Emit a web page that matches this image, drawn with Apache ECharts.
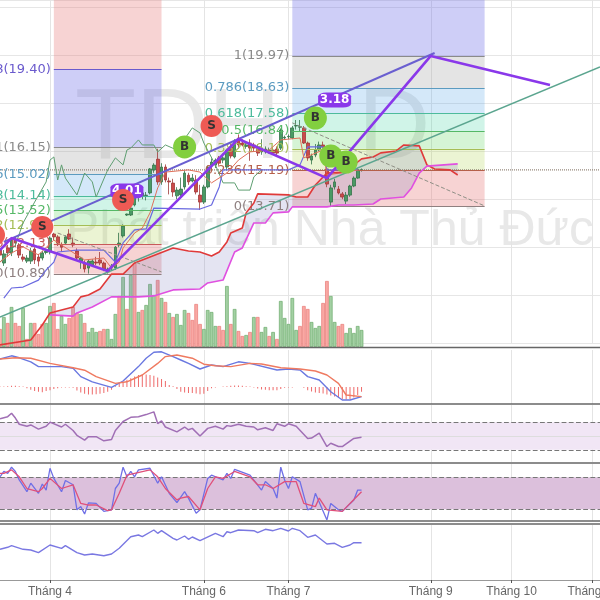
<!DOCTYPE html>
<html>
<head>
<meta charset="utf-8">
<style>
  html, body { margin: 0; padding: 0; background: #fff; }
  #chart { width: 600px; height: 600px; }
</style>
<script src="https://cdn.jsdelivr.net/npm/echarts@6/dist/echarts.min.js"></script>
</head>
<body>
<div id="chart"></div>
<script>
// x slots are trading days, the last ones are empty future days
var slotCount = 157
var tickSlots = [13, 53, 75, 112, 133, 154]
var tickLabels = ['Tháng 4', 'Tháng 6', 'Tháng 7', 'Tháng 9', 'Tháng 10', 'Tháng 11']

// open, close, low, high
var candles = [
  [11.88,11.67,11.55,12.0],[11.34,11.72,11.22,11.88],[11.97,11.76,11.6,12.1],[11.76,12.3,11.63,12.38],[12.3,12.17,12.0,12.43],
  [12.09,11.67,11.55,12.17],[11.59,11.5,11.4,11.72],[11.42,11.55,11.34,11.67],[11.42,11.84,11.3,11.97],[11.92,11.47,11.3,12.0],
  [11.59,11.42,11.2,11.72],[11.55,11.76,11.45,11.84],[11.78,11.84,11.7,11.9],[11.8,12.38,11.7,12.45],[12.55,12.43,12.3,12.6],
  [12.43,12.17,12.05,12.5],[12.09,12.0,11.8,12.2],[12.17,12.43,12.1,12.5],[12.55,12.34,12.3,12.75],[12.17,12.09,12.0,12.4],
  [11.84,11.55,11.45,11.95],[11.42,11.55,11.1,11.6],[11.34,11.09,10.95,11.45],[11.13,11.42,10.9,11.5],[11.26,11.42,11.2,11.5],
  [11.38,11.34,11.25,11.6],[11.47,11.34,11.25,11.8],[11.34,11.09,11.0,11.4],[10.97,11.09,10.9,11.15],[11.13,11.22,11.05,11.3],
  [11.13,12.0,11.05,12.05],[12.09,12.17,12.0,12.6],[12.47,12.88,12.4,12.95],[13.34,13.38,13.3,13.4],[13.34,13.63,13.3,13.7],
  [13.76,14.26,13.7,14.35],[14.09,14.26,13.9,14.4],[14.14,14.26,14.0,14.35],[14.15,14.17,13.95,14.3],[14.26,15.26,14.2,15.3],
  [15.22,15.42,15.1,15.5],[15.67,14.72,14.6,16.1],[14.72,15.34,14.6,15.5],[15.34,14.8,14.7,15.45],[14.76,14.72,14.2,14.9],
  [14.67,14.3,14.1,14.85],[14.14,14.38,14.0,14.5],[14.18,14.42,14.05,14.9],[14.51,15.09,14.4,15.2],[15.0,14.72,14.6,15.1],
  [14.76,14.88,14.7,15.05],[14.8,14.3,14.2,15.0],[14.17,13.88,13.55,14.6],[13.88,14.51,13.8,14.6],[14.51,15.34,14.45,15.4],
  [15.42,15.55,15.3,15.7],[15.42,15.63,15.3,15.7],[15.72,15.5,15.4,15.8],[15.63,15.72,15.5,15.9],[15.34,16.05,15.2,16.1],
  [16.18,15.8,15.7,16.3],[15.76,16.38,15.7,16.5],[16.55,16.26,16.1,16.7],[16.34,16.26,16.2,16.5],[16.2,16.26,16.1,16.4],
  [16.34,16.13,15.6,16.5],[16.26,16.13,16.0,16.35],[16.17,15.92,15.8,16.3],[15.97,16.13,15.85,16.5],[15.97,16.09,15.9,16.2],
  [16.0,16.05,15.9,16.15],[16.05,15.92,15.85,16.15],[16.09,15.92,15.8,16.2],[16.13,16.88,16.05,16.95],[16.55,16.58,16.5,16.65],
  [16.6,16.62,16.5,16.7],[16.55,16.97,16.5,17.05],[17.05,17.07,16.9,17.3],[17.0,17.02,16.8,17.3],[16.97,16.34,16.3,17.05],
  [16.34,15.72,15.6,16.4],[15.63,15.8,15.45,15.9],[15.84,16.05,15.75,16.3],[16.05,16.26,16.0,16.4],[16.26,16.17,16.1,16.4],
  [15.26,14.63,14.5,15.4],[13.88,14.47,13.68,14.6],[14.51,14.72,14.4,14.85],[14.42,14.26,14.2,14.55],[14.22,14.09,14.0,14.3],
  [13.92,14.17,13.8,14.3],[14.17,14.55,14.1,14.6],[14.55,14.88,14.5,14.95],[14.88,15.22,14.85,15.3],[15.2,15.22,15.15,15.28]
]
var volumes = [18,30,24,40,24,21,39,8,24,24,13,23,24,41,44,18,31,23,29,40,34,33,24,15,19,15,16,18,18,8,33,51,70,38,72,84,35,37,42,63,52,67,49,45,34,30,33,
  22,37,34,27,43,23,18,37,35,21,21,17,61,23,38,16,11,12,15,30,30,15,20,11,15,8,46,29,23,49,17,21,41,38,25,19,21,44,66,51,25,21,23,14,19,14,21,17]
var volumeUp = [0,1,0,1,0,0,1,0,1,0,0,0,1,1,0,0,1,1,0,0,0,1,0,1,1,1,0,0,1,1,1,0,1,0,1,0,1,0,1,1,1,0,1,0,1,0,1,
  1,1,0,0,0,0,1,1,1,1,0,0,1,0,1,0,0,1,0,1,0,1,1,0,1,0,1,1,1,1,1,0,0,0,1,1,1,0,0,1,1,0,0,1,1,1,1,1]

var lastPrice = 15.22

// ichimoku, [slot, price]
var senkouA = [[0,7.93],[8,8.13],[11,8.76],[13,9.26],[14,9.3],[19,9.51],[21,9.93],[23,10.01],[26,10.26],[29,10.88],[32,10.88],[35,11.34],[41,11.72],[45,11.97],[49,11.84],[52,11.8],[55,11.63],[57,11.8],[59,12.22],[60,12.59],[63,12.8],[64,13.43],[66,13.84],[67,14.22],[75,14.18],[77,14.09],[80,14.09],[82,14.59],[85,15.09],[90,15.13],[93,15.55],[94,15.68],[97,15.76],[99,15.93],[103,16.01],[105,16.26],[109,16.22],[111,15.43],[113,15.26],[117,15.22],[119,15.01]]
var senkouB = [[13,9.18],[19,9.13],[20,9.26],[24,9.51],[29,9.93],[36,9.93],[40,9.97],[45,10.22],[52,10.26],[54,10.51],[58,10.63],[61,11.8],[63,11.97],[66,13.01],[69,13.01],[71,13.43],[75,13.47],[76,13.68],[85,13.68],[88,13.76],[92,13.76],[97,13.8],[99,14.01],[105,14.09],[107,14.47],[109,15.09],[111,15.38],[119,15.47]]
var kijun = [[1,9.88],[3,10.3],[6,10.34],[10,10.63],[12,11.05],[14,11.38],[15,11.8],[20,11.88],[27,11.88],[30,11.38],[32,12.18],[35,12.72],[38,12.76],[40,13.63],[52,13.59],[55,13.76],[57,14.51],[58,15.22],[75,15.22],[78,15.43],[80,16.18],[84,16.18],[85,15.22],[93,15.22]]
var tenkan = [[0,11.38],[3,11.76],[6,12.01],[10,11.68],[14,12.3],[18,11.88],[22,11.47],[27,11.55],[29,11.13],[31,11.38],[32,11.97],[35,12.59],[37,12.8],[39,13.43],[41,14.47],[43,15.13],[49,15.22],[52,15.13],[55,14.68],[59,15.09],[62,15.63],[65,15.97],[70,16.05],[73,16.47],[78,16.55],[79,15.72],[84,16.05],[85,15.01],[90,15.13],[93,15.22]]
var chikou = [[0,11.38],[4,12.09],[6,13.01],[9,13.88],[12,14.72],[13,15.63],[14,15.76],[15,14.8],[16,15.43],[17,14.88],[20,14.18],[22,15.09],[24,14.72],[25,14.09],[28,15.22],[30,15.72],[32,15.43],[33,16.05],[34,16.13],[36,16.47],[37,16.26],[40,16.26],[41,15.97],[43,16.26],[46,16.05],[50,16.97],[52,16.76],[53,16.34],[56,15.43],[58,14.68],[61,14.68],[62,14.38],[65,14.38],[66,14.93],[68,15.22]]

// drawn trend lines
var zigzag = [[0,11.88],[3,12.38],[28,11.01],[62,16.51],[85,14.88],[112,19.97],[143,18.76]]
var channelLine = [[1,12.22],[113,20.09]]
var longTrend = [[0,9.09],[156,19.51]]
var dashedLines = [
  [[15,12.59],[42,10.97]],
  [[29,11.17],[62,16.47]],
  [[76,17.18],[126,13.72]]
]

// fibonacci tools
var priceTop = 22.3
var fibLeftSlots = [14, 42]
var fibLeftLevels = [19.40, 16.15, 15.02, 14.14, 13.52, 12.90, 12.13, 10.89]
var fibLeftNames = ['1.618(19.40)', '1(16.15)', '0.786(15.02)', '0.618(14.14)', '0.5(13.52)', '0.382(12.90)', '0.236(12.13)', '0(10.89)']
var fibLeftLines = ['#6a5acd', '#8a8a8a', '#5b9bc0', '#4dbb9c', '#55b866', '#a5bd55', '#c85a5a', '#8f8080']
var fibLeftBands = ['rgba(230,120,120,.33)', 'rgba(105,105,230,.33)', 'rgba(165,165,165,.3)', 'rgba(85,165,230,.25)', 'rgba(60,210,160,.24)', 'rgba(80,210,80,.24)', 'rgba(170,210,70,.24)', 'rgba(230,120,120,.33)']

var fibRightSlots = [76, 126]
var fibRightLevels = [19.97, 18.63, 17.58, 16.84, 16.10, 15.19, 13.71]
var fibRightNames = ['1(19.97)', '0.786(18.63)', '0.618(17.58)', '0.5(16.84)', '0.382(16.10)', '0.236(15.19)', '0(13.71)']
var fibRightLines = ['#8a8a8a', '#5b9bc0', '#4dbb9c', '#55b866', '#a5bd55', '#b5604a', '#8f8080']
var fibRightBands = ['rgba(105,105,230,.33)', 'rgba(165,165,165,.3)', 'rgba(85,165,230,.25)', 'rgba(60,210,160,.24)', 'rgba(80,210,80,.24)', 'rgba(170,210,70,.24)', 'rgba(230,120,120,.33)']

// buy, sell and pattern tags
var buyMarks = [[48,16.18],[82,17.38],[86,15.8],[90,15.55]]
var sellMarks = [[11,12.84],[32,13.97],[55,17.05]]
var sellMarkOffLeft = [0,12.51]
var patternTags = [[33,14.34,'4.01'],[87,18.13,'3.18']]

// MACD, [slot, value]
var macdLine = [[0,.70],[3,.78],[5,.73],[8,.63],[10,.51],[13,.51],[16,.51],[19,.47],[21,.26],[24,.13],[29,-.01],[32,.15],[36,.51],[38,.72],[40,.87],[42,.88],[45,.76],[47,.675],[49,.59],[52,.45],[55,.55],[58,.51],[62,.63],[65,.59],[72,.425],[75,.45],[78,.425],[80,.26],[83,.175],[86,-.12],[89,-.325],[91,-.325],[94,-.24]]
var macdSignal = [[0,.70],[4,.73],[8,.72],[13,.59],[19,.48],[22,.42],[25,.26],[30,.09],[33,.13],[37,.30],[41,.59],[43,.76],[46,.80],[50,.72],[53,.57],[56,.53],[60,.51],[65,.59],[68,.575],[73,.48],[78,.45],[82,.40],[85,.30],[88,.09],[90,-.2],[94,-.24]]
var macdHist = [.01,.01,.02,.03,.03,.02,.01,-.03,-.07,-.1,-.12,-.13,-.1,-.08,-.05,-.03,-.01,-.01,-.01,-.02,-.09,-.14,-.17,-.19,-.19,-.18,-.17,-.15,-.12,-.07,.02,.09,.13,.18,.22,.26,.3,.31,.31,.3,.28,.24,.2,.15,.05,.02,-.05,
  -.12,-.14,-.15,-.15,-.16,-.18,-.17,-.1,-.03,-.01,0,.01,.02,.03,.04,.04,.03,.02,.01,-.01,-.04,-.06,-.07,-.08,-.08,-.08,-.05,-.02,-.01,-.01,0,0,-.02,-.08,-.11,-.14,-.15,-.16,-.19,-.21,-.24,-.27,-.3,-.31,-.3,-.26,-.2,-.12]

var rsiLine = [[0,75],[2,78],[3,83],[4,76],[5,67],[7,64],[8,66],[10,60],[12,64],[13,70],[16,63],[17,67],[19,58],[20,51],[22,44],[23,49],[25,49],[27,43],[29,45],[30,58],[32,71],[34,77],[36,78],[38,81],[40,85],[41,68],[42,72],[43,63],[46,56],[48,63],[49,59],[50,61],[52,50],[54,61],[56,64],[58,60],[59,65],[60,64],[62,67],[64,64],[66,63],[67,59],[69,62],[71,58],[72,67.7],[74,64],[75,67.7],[77,64],[80,46.5],[81,47],[83,54],[85,34.7],[86,39.5],[88,34.7],[89,34.7],[92,46.5],[94,48]]

var stochK = [[0,81],[1,91],[2,87.5],[3,99],[4,91],[5,75],[7,53],[8,69],[10,50],[11,67.5],[12,56],[13,97],[14,78],[16,53],[17,74],[19,66],[20,19],[21,25],[22,11],[23,32],[25,31],[27,16],[29,19],[30,59],[31,69],[32,99],[33,81],[34,91],[35,81],[36,94],[39,97],[41,69],[42,81],[44,50],[46,32.5],[48,53],[49,41],[51,12.5],[52,19],[54,78],[55,84],[58,75],[59,87.5],[60,78],[61,95],[65,84],[68,56],[69,72],[71,59],[72,41],[73,99],[74,75],[75,59],[76,81],[78,72],[80,19],[81,22],[82,50],[85,0],[86,31],[88,19],[89,16],[92,37.5],[93,56],[94,56]]
var stochD = [[0,87.5],[1,87.5],[3,94],[5,81],[7,59],[10,53],[11,59],[13,78],[16,59],[19,66],[21,31],[23,28],[25,28],[28,17.5],[29,19],[31,50],[33,84],[35,87.5],[39,94],[41,81],[43,59],[46,37.5],[47,41],[49,44],[52,19],[54,59],[56,81],[58,78],[61,91],[65,81],[67,66],[69,66],[71,59],[74,72],[77,72],[79,31],[82,25],[83,41],[85,19],[89,16],[91,31],[94,53]]

var bottomLine = [[0,30.7],[2,32.7],[3,34.3],[6,30.7],[8,30],[10,27.3],[13,35],[16,31.7],[17,34.3],[20,27.3],[22,25],[24,26],[27,24.3],[29,26],[31,31.7],[34,43.3],[36,45],[37,43.3],[40,50],[41,46.7],[42,49.3],[45,41.7],[46,40],[48,44],[49,40.7],[50,43],[52,39.3],[56,46.7],[58,43.3],[59,48.3],[60,47.3],[62,50],[66,49.3],[67,47.3],[69,50.7],[71,49.3],[73,51.7],[75,49],[76,51.7],[78,49.3],[80,42.7],[82,45],[85,36],[87,36.7],[89,32.7],[91,35],[92,37.3],[94,37.3]]

var slots = []
for (var s = 0; s < slotCount; s++) slots.push(String(s))

function isTick(index) {
  return tickSlots.indexOf(index) >= 0
}

function makeX(gridIndex, withLabels) {
  return {
    type: 'category',
    gridIndex: gridIndex,
    data: slots,
    boundaryGap: false,
    axisLine: { show: withLabels, lineStyle: { color: '#999', width: 1 } },
    axisTick: { show: withLabels, interval: isTick, length: 3, lineStyle: { color: '#555' } },
    axisLabel: {
      show: withLabels,
      interval: isTick,
      color: '#666',
      fontSize: 12,
      fontFamily: 'Liberation Sans',
      margin: 6,
      formatter: function (v) { return tickLabels[tickSlots.indexOf(Number(v))] }
    },
    splitLine: { show: gridIndex !== 1, interval: isTick, lineStyle: { color: '#e4e4e4' } }
  }
}

function makeY(gridIndex, min, max, extra) {
  return Object.assign({
    type: 'value',
    gridIndex: gridIndex,
    min: min,
    max: max,
    axisLine: { show: false },
    axisTick: { show: false },
    axisLabel: { show: false },
    splitLine: { show: false }
  }, extra || {})
}

function makeGrid(top, height) {
  // labels may run off the canvas, the plot must not shrink for them
  return { left: 0, width: 600, top: top, height: height, outerBoundsMode: 'none' }
}

function thinLine(name, data, color, width, axisIndex, z) {
  return {
    name: name,
    type: 'line',
    data: data,
    xAxisIndex: axisIndex,
    yAxisIndex: axisIndex,
    symbol: 'none',
    clip: false,
    z: z || 5,
    animation: false,
    silent: true,
    lineStyle: { color: color, width: width }
  }
}

function fibSeries(name, range, levels, names, lines, bands, top) {
  var areas = []
  var rules = []
  levels.forEach(function (level, i) {
    var upper = i === 0 ? top : levels[i - 1]
    areas.push([
      { coord: [range[0], upper], itemStyle: { color: bands[i] } },
      { coord: [range[1], level] }
    ])
    rules.push([
      {
        coord: [range[0], level],
        lineStyle: { color: lines[i], width: 1.2, type: 'solid' },
        label: {
          show: true,
          position: 'start',
          distance: 3,
          formatter: names[i],
          color: lines[i],
          fontSize: 13,
          fontFamily: 'DejaVu Sans'
        }
      },
      { coord: [range[1], level] }
    ])
  })
  return {
    name: name,
    type: 'line',
    data: [],
    xAxisIndex: 0,
    yAxisIndex: 0,
    z: 1,
    animation: false,
    silent: true,
    markArea: { silent: true, animation: false, data: areas },
    markLine: { silent: true, animation: false, symbol: 'none', data: rules }
  }
}

function circleLabel(letter) {
  return {
    show: true,
    position: 'inside',
    formatter: letter,
    color: '#333',
    fontSize: 12,
    fontWeight: 'bold',
    fontFamily: 'DejaVu Sans'
  }
}

var panelLines = [347.5, 404, 463, 521, 524].map(function (y) {
  return { type: 'line', z: 10, shape: { x1: 0, y1: y, x2: 600, y2: y }, style: { stroke: '#666', lineWidth: 1.5 } }
})

var series = [
  fibSeries('fibLeft', fibLeftSlots, fibLeftLevels, fibLeftNames, fibLeftLines, fibLeftBands, priceTop),
  fibSeries('fibRight', fibRightSlots, fibRightLevels, fibRightNames, fibRightLines, fibRightBands, priceTop),
  {
    name: 'volume',
    type: 'bar',
    xAxisIndex: 1,
    yAxisIndex: 1,
    barWidth: 3.6,
    z: 2,
    animation: false,
    silent: true,
    data: volumes.map(function (v, i) {
      return {
        value: v,
        itemStyle: volumeUp[i]
          ? { color: '#a3d0a3', borderColor: '#6bab6b', borderWidth: 0.7 }
          : { color: '#f9a8a4', borderColor: '#e87a76', borderWidth: 0.7 }
      }
    })
  },
  {
    name: 'cloud',
    type: 'custom',
    xAxisIndex: 0,
    yAxisIndex: 0,
    z: 3,
    silent: true,
    animation: false,
    data: [[0, 0]],
    renderItem: function (params, api) {
      var upper = senkouA.filter(function (p) { return p[0] >= senkouB[0][0] })
      var outline = upper.concat(senkouB.slice().reverse()).map(function (p) { return api.coord(p) })
      return { type: 'polygon', shape: { points: outline }, style: { fill: 'rgba(120,120,190,.2)' } }
    }
  },
  {
    name: 'price',
    type: 'candlestick',
    xAxisIndex: 0,
    yAxisIndex: 0,
    barWidth: 3.2,
    z: 4,
    animation: false,
    silent: true,
    data: candles,
    itemStyle: { color: '#4a9a64', color0: '#cc4a4a', borderColor: '#35734a', borderColor0: '#a03a3a', borderWidth: 0.8 }
  },
  Object.assign(thinLine('lastPrice', [[0, lastPrice], [156, lastPrice]], '#7a6a5a', 1, 0, 4), {
    lineStyle: { color: '#7a6a5a', width: 1, type: 'dotted' }
  }),
  thinLine('chikou', chikou, '#5f9f72', 1, 0),
  thinLine('kijun', kijun, '#6a6ae0', 1.2, 0),
  thinLine('tenkan', tenkan, '#e0705a', 1, 0),
  thinLine('senkouA', senkouA, '#e03a3a', 1.6, 0),
  thinLine('senkouB', senkouB, '#e050e0', 1.6, 0),
  thinLine('longTrend', longTrend, '#5ba58f', 1.5, 0, 6),
  thinLine('channelLine', channelLine, '#6a5fd0', 2, 0, 6),
  thinLine('zigzag', zigzag, '#8a38ea', 2.6, 0, 7),
  {
    name: 'tags',
    type: 'scatter',
    xAxisIndex: 0,
    yAxisIndex: 0,
    z: 8,
    animation: false,
    silent: true,
    symbol: 'roundRect',
    symbolSize: [33, 15],
    itemStyle: { color: '#8a38ea', opacity: 1 },
    data: patternTags,
    label: {
      show: true,
      position: 'inside',
      formatter: function (p) { return p.value[2] },
      color: '#fff',
      fontSize: 12,
      fontWeight: 'bold',
      fontFamily: 'DejaVu Sans'
    }
  },
  {
    name: 'sell',
    type: 'scatter',
    xAxisIndex: 0,
    yAxisIndex: 0,
    z: 9,
    clip: false,
    animation: false,
    silent: true,
    symbolSize: 22,
    itemStyle: { color: '#ee5a54', opacity: 1 },
    label: circleLabel('S'),
    data: [{ value: sellMarkOffLeft, symbolOffset: [-6, 0], label: { show: false } }].concat(sellMarks)
  },
  {
    name: 'buy',
    type: 'scatter',
    xAxisIndex: 0,
    yAxisIndex: 0,
    z: 9,
    animation: false,
    silent: true,
    symbolSize: 23,
    itemStyle: { color: '#82cf3f', opacity: 1 },
    label: circleLabel('B'),
    data: buyMarks
  },
  {
    name: 'macdHist',
    type: 'bar',
    xAxisIndex: 2,
    yAxisIndex: 2,
    barWidth: 1,
    animation: false,
    silent: true,
    itemStyle: { color: '#ee6a6a' },
    data: macdHist
  },
  thinLine('macd', macdLine, '#6a78e0', 1.4, 2),
  thinLine('signal', macdSignal, '#ef7a60', 1.4, 2),
  Object.assign(thinLine('rsi', rsiLine, '#a06fb5', 1.5, 3), {
    markArea: {
      silent: true,
      animation: false,
      itemStyle: { color: '#f1e6f5' },
      data: [[{ yAxis: 70 }, { yAxis: 30 }]]
    },
    markLine: {
      silent: true,
      animation: false,
      symbol: 'none',
      label: { show: false },
      data: [
        { yAxis: 70, lineStyle: { color: '#777', type: 'dashed', width: 1.2 } },
        { yAxis: 30, lineStyle: { color: '#777', type: 'dashed', width: 1.2 } },
        { yAxis: 50, lineStyle: { color: '#ddd', type: 'solid', width: 1 } }
      ]
    }
  }),
  Object.assign(thinLine('stochK', stochK, '#6f6fe6', 1.3, 4), {
    markArea: {
      silent: true,
      animation: false,
      itemStyle: { color: '#dcc0dc' },
      data: [[{ yAxis: 80 }, { yAxis: 20 }]]
    },
    markLine: {
      silent: true,
      animation: false,
      symbol: 'none',
      label: { show: false },
      data: [
        { yAxis: 80, lineStyle: { color: '#777', type: 'dashed', width: 1.2 } },
        { yAxis: 20, lineStyle: { color: '#777', type: 'dashed', width: 1.2 } }
      ]
    }
  }),
  thinLine('stochD', stochD, '#e0507a', 1.3, 4),
  thinLine('bottom', bottomLine, '#7a78e2', 1.4, 5)
]

dashedLines.forEach(function (points, i) {
  var item = thinLine('dashed' + i, points, '#8f8f86', 1, 0, 6)
  item.lineStyle.type = 'dashed'
  series.push(item)
})

var chart = echarts.init(document.getElementById('chart'))
chart.setOption({
  animation: false,
  backgroundColor: '#fff',
  grid: [
    makeGrid(0, 343.2),
    makeGrid(257, 90),
    makeGrid(350, 54),
    makeGrid(405, 57),
    makeGrid(464, 57),
    makeGrid(525, 55)
  ],
  xAxis: [makeX(0), makeX(1), makeX(2), makeX(3), makeX(4), makeX(5, true)],
  yAxis: [
    makeY(0, 8, priceTop, { interval: 2, splitLine: { show: true, lineStyle: { color: '#e6e6e6' } } }),
    makeY(1, 0, 90),
    makeY(2, -0.425, 0.925),
    makeY(3, 12.3, 94.9),
    makeY(4, -2, 105),
    makeY(5, 0, 55)
  ],
  graphic: [
    { type: 'text', z: 0, x: 75, y: 80, silent: true, style: { text: 'TDH', fontSize: 100, fontFamily: 'Liberation Sans', fill: '#e8e8e8' } },
    { type: 'text', z: 0, x: 358, y: 80, silent: true, style: { text: 'D', fontSize: 100, fontFamily: 'Liberation Sans', fill: '#e8e8e8' } },
    { type: 'text', z: 0, x: 594, y: 206, silent: true, style: { text: 'Phát triển Nhà Thủ Đức', align: 'right', fontSize: 50, fontFamily: 'Liberation Sans', fill: '#e8e8e8' } }
  ].concat(panelLines),
  series: series
})
</script>
</body>
</html>
